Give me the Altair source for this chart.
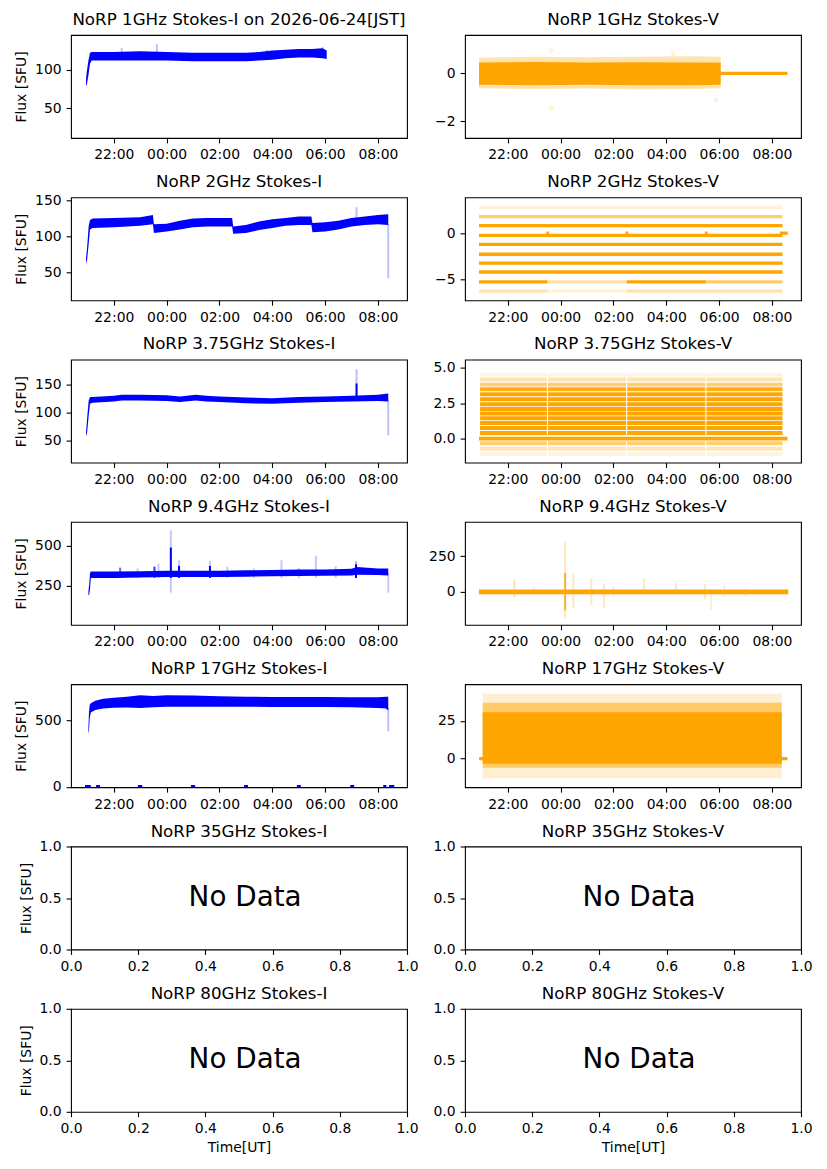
import json
import altair as alt
import pandas as pd

BLUE = "#0000ff"
ORANGE = "#ffa500"
FONT = "DejaVu Sans"
W, H = 336, 103

# ---------------- shared axes (time in hours after 2026-06-23 20:00 UT) ----------------
time_domain = [0.38, 13.1]
time_tick_values = [2, 4, 6, 8, 10, 12]
time_tick_labels = ["22:00", "00:00", "02:00", "04:00", "06:00", "08:00"]
frac_tick_values = [0.0, 0.2, 0.4, 0.6, 0.8, 1.0]
frac_y_ticks = [0.0, 0.5, 1.0]

# ---------------- 1 GHz Stokes-I ----------------
i1_t = [0.95, 0.98, 1.04, 1.10, 1.17, 1.5, 2.0, 3.0, 4.0, 5.0, 6.0, 7.0, 7.5, 8.0, 8.5, 9.0, 9.5, 9.9, 10.06]
i1_lo = [79, 81, 93, 108, 112, 112, 112, 112, 112, 111, 111, 111, 112, 113, 115, 116, 116, 115, 114]
i1_hi = [88, 98, 112, 122, 123, 123, 123, 124, 123, 122, 122, 122, 123, 125, 126, 127, 127, 128, 125]
i1_spk_t = [2.3, 3.63, 7.79, 9.9]
i1_spk_lo = [120, 120, 120, 122]
i1_spk_hi = [128, 133, 126, 129]
i1_spk_op = [0.25, 0.25, 0.25, 0.35]

# ---------------- 2 GHz Stokes-I ----------------
i2_t = [0.95, 0.99, 1.05, 1.10, 1.2, 2.0, 3.0, 3.48, 3.52, 4.0, 4.5, 5.0, 5.5, 6.0, 6.48, 6.52, 7.0, 7.5,
        8.0, 8.5, 9.0, 9.48, 9.52, 10.0, 10.5, 11.0, 11.5, 12.0, 12.39]
i2_lo = [62, 68, 90, 110, 112, 113, 115, 117, 105, 107, 110, 113, 114, 114, 114, 104, 105, 109,
         112, 115, 116, 116, 106, 107, 110, 114, 116, 117, 116]
i2_hi = [70, 85, 115, 123, 125, 126, 127, 130, 117, 118, 122, 125, 126, 126, 126, 114, 116, 121,
         124, 126, 128, 128, 119, 120, 122, 126, 128, 130, 131]
i2_spk_t = [11.19, 12.39]
i2_spk_lo = [120, 42]
i2_spk_hi = [141, 118]
i2_spk_op = [0.25, 0.25]

# ---------------- 3.75 GHz Stokes-I ----------------
i3_t = [0.95, 0.99, 1.05, 1.10, 1.2, 2.0, 2.3, 3.0, 4.0, 4.5, 5.1, 5.5, 6.0, 7.0, 8.0, 9.0, 10.0, 11.0, 12.0, 12.39]
i3_lo = [58, 65, 95, 116, 118, 120, 122, 122, 121, 119, 122, 120, 119, 117, 116, 118, 119, 120, 121, 120]
i3_hi = [66, 90, 122, 128, 128, 130, 132, 132, 131, 129, 132, 130, 129, 127, 126, 128, 129, 130, 132, 134]
i3_spk_t = [11.19, 11.19, 12.39]
i3_spk_lo = [125, 125, 60]
i3_spk_hi = [177, 152, 122]
i3_spk_op = [0.25, 1.0, 0.25]

# ---------------- 9.4 GHz Stokes-I ----------------
i9_t = [1.04, 1.07, 1.10, 1.13, 1.5, 2.0, 3.0, 4.0, 5.0, 6.0, 7.0, 8.0, 9.0, 10.0, 11.0, 11.2, 12.0, 12.39]
i9_lo = [190, 195, 230, 300, 300, 300, 302, 305, 305, 305, 307, 310, 312, 313, 315, 320, 318, 315]
i9_hi = [215, 260, 330, 340, 340, 340, 342, 345, 345, 345, 347, 350, 352, 353, 357, 368, 358, 358]
i9_spk_t = [4.16, 4.16, 4.47, 4.47, 5.64, 5.64, 3.54, 2.24, 3.69, 8.35, 9.65, 11.17, 11.17, 12.39,
            6.3, 7.3, 9.0, 2.9, 10.4]
i9_spk_lo = [208, 300, 300, 300, 300, 300, 300, 300, 300, 300, 300, 300, 300, 208,
             300, 300, 300, 300, 300]
i9_spk_hi = [597, 490, 410, 375, 406, 375, 370, 364, 389, 410, 439, 406, 385, 330,
             370, 360, 362, 360, 372]
i9_spk_op = [0.22, 1.0, 0.22, 1.0, 0.22, 1.0, 0.8, 0.6, 0.22, 0.22, 0.22, 0.3, 1.0, 0.22,
             0.22, 0.22, 0.22, 0.22, 0.22]

# ---------------- 17 GHz Stokes-I ----------------
i17_t = [1.04, 1.06, 1.09, 1.13, 1.3, 1.6, 2.0, 2.5, 3.0, 3.5, 4.0, 5.0, 6.0, 7.0, 8.0, 9.0, 10.0, 11.0, 12.0, 12.3, 12.39]
i17_lo = [400, 420, 520, 560, 580, 590, 596, 598, 595, 600, 605, 605, 605, 604, 603, 602, 602, 600, 595, 590, 575]
i17_hi = [450, 560, 620, 630, 650, 665, 672, 680, 690, 685, 690, 688, 683, 680, 678, 678, 678, 676, 675, 680, 680]
i17_spk_t = [12.39]
i17_spk_lo = [420]
i17_spk_hi = [600]
i17_spk_op = [0.25]
i17_zero_t0 = [0.91, 1.33, 2.91, 4.92, 6.93, 8.93, 10.95, 12.20, 12.42]
i17_zero_t1 = [1.13, 1.48, 3.08, 5.08, 7.08, 9.08, 11.10, 12.32, 12.62]

# ---------------- 1 GHz Stokes-V ----------------
v1_t = [0.91, 3.0, 5.0, 7.0, 9.0, 10.06]
v1_core_lo = [-0.48, -0.50, -0.48, -0.50, -0.50, -0.48]
v1_core_hi = [0.46, 0.48, 0.46, 0.47, 0.46, 0.46]
v1_faint_lo = [-0.62, -0.66, -0.63, -0.68, -0.65, -0.62]
v1_faint_hi = [0.66, 0.70, 0.68, 0.70, 0.72, 0.70]
v1_out_t = [3.64, 3.64, 8.26, 9.88]
v1_out_v = [0.96, -1.44, 0.83, -1.13]
v1_flat_t0 = [10.06]
v1_flat_t1 = [12.59]

# ---------------- 2 GHz Stokes-V (quantised levels) ----------------
v2_levels = [2.85, 1.85, 0.88, -0.20, -1.16, -2.24, -3.20, -4.17]
v2_level_alpha = [0.15, 0.55, 1, 1, 1, 1, 1, 1]
v2_span = [0.91, 12.40]
v2_part_t0 = [0.91, 3.50, 6.50, 9.50]
v2_part_t1 = [3.50, 6.50, 9.50, 12.40]
v2_m5_level = -5.25
v2_m5_alpha = [1.0, 0.35, 1.0, 0.6]
v2_m6_level = -6.26
v2_m6_alpha = [0.3, 0.15, 0.3, 0.3]
v2_bump_t0 = [3.46, 6.46, 9.46, 12.30]
v2_bump_t1 = [3.56, 6.56, 9.56, 12.60]
v2_bump_v = [0.05, 0.05, 0.05, 0.05]

# ---------------- 3.75 GHz Stokes-V (quantised levels) ----------------
v3_levels = [4.53, 4.18, 3.82, 3.49, 3.14, 2.78, 2.43, 2.09, 1.77, 1.44, 1.10, 0.75, 0.40, -0.33, -0.71, -1.09]
v3_level_alpha = [0.12, 0.3, 0.55, 0.9, 1, 1, 1, 1, 1, 1, 1, 1, 1, 0.55, 0.3, 0.12]
v3_part_t0 = [0.95, 3.52, 6.52, 9.52]
v3_part_t1 = [3.48, 6.48, 9.48, 12.40]
v3_zero_t0 = [0.91]
v3_zero_t1 = [12.59]

# ---------------- 9.4 GHz Stokes-V ----------------
v9_t = [0.91, 12.62]
v9_lo = [-17, -17]
v9_hi = [16, 16]
v9_spk_t = [2.25, 4.17, 4.17, 4.48, 5.16, 5.64, 7.16, 8.37, 9.46, 9.69, 11.0, 3.0, 6.0, 10.2]
v9_spk_lo = [-40, -180, -131, -110, -91, -110, -20, -20, -52, -130, -30, -20, -30, -30]
v9_spk_hi = [88, 353, 135, 128, 95, 58, 95, 62, 58, -20, 24, 40, 40, 50]
v9_spk_op = [0.35, 0.25, 0.8, 0.25, 0.25, 0.25, 0.25, 0.25, 0.25, 0.2, 0.25, 0.2, 0.2, 0.2]

# ---------------- 17 GHz Stokes-V ----------------
v17_t = [1.05, 12.37]
v17_core_lo = [-3.3, -3.3]
v17_core_hi = [30.7, 30.7]
v17_semi_lo = [-6.0, -6.0]
v17_semi_hi = [37.0, 37.0]
v17_faint_lo = [-13.0, -13.0]
v17_faint_hi = [43.0, 43.0]
v17_zero_t0 = [0.91]
v17_zero_t1 = [12.59]

TIME_EXPR = json.dumps(time_tick_labels) + "[round(datum.value / 2) - 1]"


def X(field, p):
    if p["kind"] == "time":
        scale = alt.Scale(domain=time_domain, nice=False, zero=False)
        axis = alt.Axis(values=time_tick_values, labelExpr=TIME_EXPR, title=p["xtitle"])
    else:
        scale = alt.Scale(domain=[0, 1], nice=False, zero=False)
        axis = alt.Axis(values=frac_tick_values, format=".1f", title=p["xtitle"], titlePadding=5)
    return alt.X(f"{field}:Q", scale=scale, axis=axis)


def Y(field, p):
    return alt.Y(f"{field}:Q", scale=alt.Scale(domain=p["ydom"], nice=False, zero=False),
                 axis=alt.Axis(values=p["yticks"], format=p["yfmt"], title=p["ytitle"]))


def band(p, t, lo, hi, color, opacity=1.0):
    df = pd.DataFrame({"t": t, "lo": lo, "hi": hi})
    return alt.Chart(df).mark_area(color=color, opacity=opacity, interpolate="linear").encode(
        x=X("t", p), y=Y("lo", p), y2="hi")


def vrules(p, t, lo, hi, op, color, width=2.0):
    df = pd.DataFrame({"t": t, "lo": lo, "hi": hi, "op": op})
    return alt.Chart(df).mark_rule(color=color, strokeWidth=width).encode(
        x=X("t", p), y=Y("lo", p), y2="hi", opacity=alt.Opacity("op:Q", scale=None, legend=None))


def hsegs(p, t0, t1, v, op, color, width=3.3, clip=False):
    df = pd.DataFrame({"t0": t0, "t1": t1, "v": v, "op": op})
    return alt.Chart(df).mark_rule(color=color, strokeWidth=width, clip=clip).encode(
        x=X("t0", p), x2="t1", y=Y("v", p), opacity=alt.Opacity("op:Q", scale=None, legend=None))


def pts(p, t, v, color, op=0.35):
    df = pd.DataFrame({"t": t, "v": v})
    return alt.Chart(df).mark_point(color=color, shape="diamond", size=14, opacity=op, strokeWidth=1).encode(
        x=X("t", p), y=Y("v", p))


def panel(p, layers):
    title = alt.TitleParams(p["title"], dy=p["tdy"]) if p["tdy"] else p["title"]
    return alt.layer(*layers).properties(width=W, height=H, title=title)


def cfg(title, ydom, yticks, yfmt, left, kind="time", xtitle=None, tdy=0):
    return dict(title=title, ydom=ydom, yticks=yticks, yfmt=yfmt,
                ytitle="Flux [SFU]" if left else None, kind=kind, xtitle=xtitle, tdy=tdy)


panels = []

# Row 1
p = cfg("NoRP 1GHz Stokes-I on 2026-06-24[JST]", [11.6, 145], [50, 100], "d", True)
panels.append(panel(p, [
    vrules(p, i1_spk_t, i1_spk_lo, i1_spk_hi, i1_spk_op, BLUE),
    band(p, i1_t, i1_lo, i1_hi, BLUE),
]))
p = cfg("NoRP 1GHz Stokes-V", [-2.71, 1.61], [-2, 0], "d", False)
panels.append(panel(p, [
    band(p, v1_t, v1_faint_lo, v1_faint_hi, ORANGE, 0.3),
    pts(p, v1_out_t, v1_out_v, ORANGE),
    band(p, v1_t, v1_core_lo, v1_core_hi, ORANGE),
    hsegs(p, v1_flat_t0, v1_flat_t1, [0.0], [1.0], ORANGE),
]))

# Row 2
p = cfg("NoRP 2GHz Stokes-I", [11.5, 154.6], [50, 100, 150], "d", True, tdy=3.5)
panels.append(panel(p, [
    vrules(p, i2_spk_t, i2_spk_lo, i2_spk_hi, i2_spk_op, BLUE),
    band(p, i2_t, i2_lo, i2_hi, BLUE),
]))
p = cfg("NoRP 2GHz Stokes-V", [-7.25, 3.95], [-5, 0], "d", False)
lv_t0 = [v2_span[0]] * len(v2_levels) + v2_part_t0 + v2_part_t0
lv_t1 = [v2_span[1]] * len(v2_levels) + v2_part_t1 + v2_part_t1
lv_v = v2_levels + [v2_m5_level] * 4 + [v2_m6_level] * 4
lv_op = v2_level_alpha + v2_m5_alpha + v2_m6_alpha
panels.append(panel(p, [
    hsegs(p, lv_t0, lv_t1, lv_v, lv_op, ORANGE),
    hsegs(p, v2_bump_t0, v2_bump_t1, v2_bump_v, [1.0] * 4, ORANGE),
]))

# Row 3
p = cfg("NoRP 3.75GHz Stokes-I", [11.7, 194.3], [50, 100, 150], "d", True)
panels.append(panel(p, [
    vrules(p, i3_spk_t, i3_spk_lo, i3_spk_hi, i3_spk_op, BLUE),
    band(p, i3_t, i3_lo, i3_hi, BLUE),
]))
p = cfg("NoRP 3.75GHz Stokes-V", [-1.70, 5.59], [0.0, 2.5, 5.0], ".1f", False)
s_t0, s_t1, s_v, s_op = [], [], [], []
for lev, a in zip(v3_levels, v3_level_alpha):
    for a0, a1 in zip(v3_part_t0, v3_part_t1):
        s_t0.append(a0)
        s_t1.append(a1)
        s_v.append(lev)
        s_op.append(a)
panels.append(panel(p, [
    hsegs(p, s_t0, s_t1, s_v, s_op, ORANGE, width=3.9),
    hsegs(p, v3_zero_t0, v3_zero_t1, [0.0], [1.0], ORANGE, width=3.9),
]))

# Row 4
p = cfg("NoRP 9.4GHz Stokes-I", [6, 650], [250, 500], "d", True)
panels.append(panel(p, [
    vrules(p, i9_spk_t, i9_spk_lo, i9_spk_hi, i9_spk_op, BLUE),
    band(p, i9_t, i9_lo, i9_hi, BLUE),
]))
p = cfg("NoRP 9.4GHz Stokes-V", [-232, 492], [0, 250], "d", False)
panels.append(panel(p, [
    vrules(p, v9_spk_t, v9_spk_lo, v9_spk_hi, v9_spk_op, ORANGE),
    band(p, v9_t, v9_lo, v9_hi, ORANGE),
]))

# Row 5
p = cfg("NoRP 17GHz Stokes-I", [-2, 774], [0, 500], "d", True)
panels.append(panel(p, [
    vrules(p, i17_spk_t, i17_spk_lo, i17_spk_hi, i17_spk_op, BLUE),
    band(p, i17_t, i17_lo, i17_hi, BLUE),
    hsegs(p, i17_zero_t0, i17_zero_t1, [0.0] * len(i17_zero_t0), [1.0] * len(i17_zero_t0), BLUE, width=4, clip=True),
]))
p = cfg("NoRP 17GHz Stokes-V", [-18.9, 49.3], [0, 25], "d", False)
panels.append(panel(p, [
    hsegs(p, v17_zero_t0, v17_zero_t1, [0.0], [1.0], ORANGE),
    band(p, v17_t, v17_faint_lo, v17_faint_hi, ORANGE, 0.18),
    band(p, v17_t, v17_semi_lo, v17_semi_hi, ORANGE, 0.5),
    band(p, v17_t, v17_core_lo, v17_core_hi, ORANGE),
]))

# Rows 6-7: no data
no_data = pd.DataFrame({"x": [0.35], "y": [0.5], "label": ["No Data"]})
for freq, bottom in [("35GHz", False), ("80GHz", True)]:
    for stokes, left in [("I", True), ("V", False)]:
        p = cfg(f"NoRP {freq} Stokes-{stokes}", [0, 1], frac_y_ticks, ".1f", left,
                kind="frac", xtitle="Time[UT]" if bottom else None, tdy=7.5)
        txt = alt.Chart(no_data).mark_text(font=FONT, fontSize=27.8, color="black",
                                           align="left", baseline="middle").encode(
            x=X("x", p), y=Y("y", p), text="label:N")
        panels.append(panel(p, [txt]))

chart = alt.concat(
    *panels, columns=2, spacing={"row": 59.3, "column": 58}, bounds="flush",
    padding={"left": 6, "top": 3, "right": 5, "bottom": 5},
).configure_view(
    stroke="black", strokeWidth=1.1
).configure_axis(
    labelFont=FONT, labelFontSize=13.9, labelColor="black", tickColor="black",
    tickSize=4.9, tickWidth=1.1, domain=False, grid=False, labelPadding=5,
    titleFont=FONT, titleFontSize=13.9, titleFontWeight="normal", titleColor="black",
    labelFlush=False, labelOverlap=False, titlePadding=6,
).configure_title(
    font=FONT, fontSize=16.7, fontWeight="normal", color="black", offset=6.5,
    anchor="middle", baseline="alphabetic",
)

chart.save("out.html", embed_options={"renderer": "svg", "actions": False})
